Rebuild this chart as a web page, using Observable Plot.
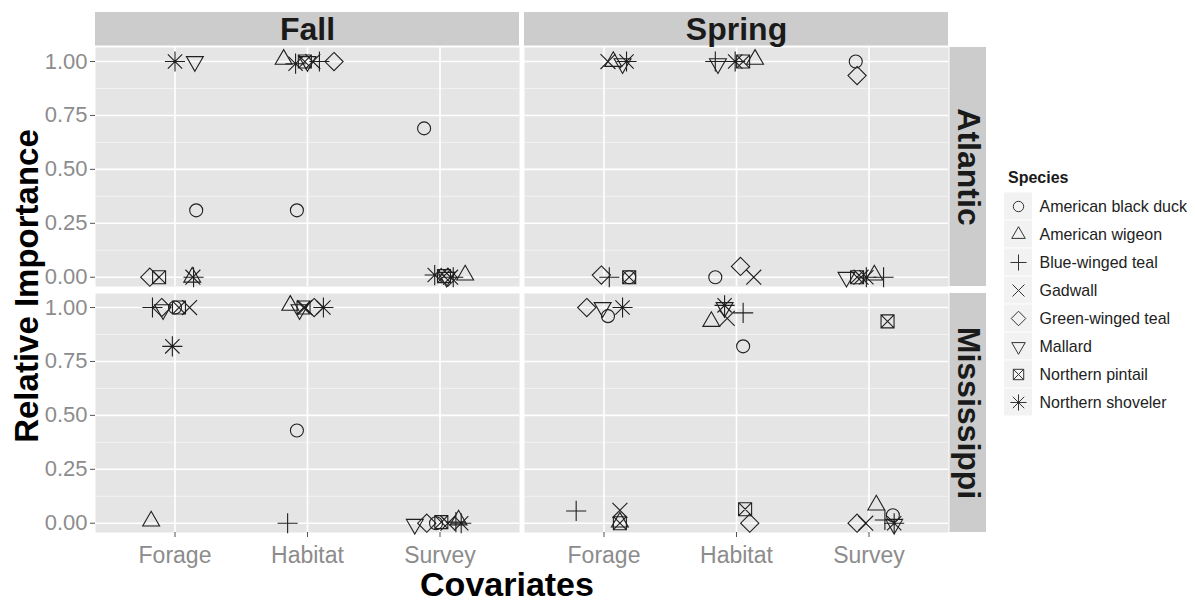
<!DOCTYPE html>
<html>
<head>
<meta charset="utf-8">
<script src="https://cdn.jsdelivr.net/npm/d3@7"></script>
<script src="https://cdn.jsdelivr.net/npm/@observablehq/plot@0.6"></script>
<style>
  html, body { margin: 0; padding: 0; background: #ffffff; }
  body { font-family: "Liberation Sans", Arial, sans-serif; }
  #wrap { position: relative; width: 1195px; height: 605px; overflow: hidden; background: #fff; }
  #main { position: absolute; left: 0; top: 0; }
  #legend { position: absolute; left: 1004px; top: 191px; }
  #legendTitle { position: absolute; left: 1008px; top: 168px; font-size: 16px; font-weight: bold; color: #1a1a1a; line-height: 20px; }
  #ylab { position: absolute; left: 27px; top: 286px; transform: translate(-50%, -50%) rotate(-90deg); font-size: 33px; font-weight: bold; color: #000; white-space: nowrap; line-height: 36px; }
  #xlab { position: absolute; left: 507px; top: 584px; transform: translate(-50%, -50%); font-size: 34px; font-weight: bold; color: #000; white-space: nowrap; line-height: 38px; }
</style>
</head>
<body>
<div id="wrap">
  <div id="main"></div>
  <div id="legendTitle">Species</div>
  <div id="legend"></div>
  <div id="ylab">Relative Importance</div>
  <div id="xlab">Covariates</div>
</div>
<script>
// ---------- data ----------
const species = ["American black duck", "American wigeon", "Blue-winged teal", "Gadwall",
                 "Green-winged teal", "Mallard", "Northern pintail", "Northern shoveler"];
const covariates = ["Forage", "Habitat", "Survey"];
const seasons = ["Fall", "Spring"];
const flyways = ["Atlantic", "Mississippi"];
const yTicks = [0, 0.25, 0.5, 0.75, 1];
const yMinorTicks = [0.125, 0.375, 0.625, 0.875];

// rows: Forage, Habitat, Survey ; columns: species in the order above
const fallAtlanticValues = [
  [0.31, 0.00, 0.00, 0.00, 0.00, 1.00, 0.00, 1.00],
  [0.31, 1.01, 1.00, 1.00, 1.00, 1.00, 1.00, 0.99],
  [0.69, 0.01, 0.00, 0.00, 0.00, 0.00, 0.005, 0.01]
];
const fallAtlanticJitter = [
  [0.16, 0.13, 0.14, 0.135, -0.19, 0.15, -0.12, 0.00],
  [-0.08, -0.18, 0.09, 0.04, 0.20, 0.00, -0.02, -0.09],
  [-0.12, 0.19, 0.10, 0.08, 0.06, 0.05, 0.03, -0.04]
];
const springAtlanticValues = [
  [0.00, 1.00, 0.00, 1.00, 0.01, 0.99, 0.00, 1.00],
  [0.00, 1.01, 1.00, 0.00, 0.05, 0.99, 1.00, 1.00],
  [1.00, 0.01, 0.00, 0.00, 0.935, 0.00, 0.00, 0.00]
];
const springAtlanticJitter = [
  [0.19, 0.07, 0.04, 0.03, -0.02, 0.14, 0.19, 0.17],
  [-0.16, 0.14, -0.16, 0.13, 0.03, -0.14, 0.05, -0.01],
  [-0.10, 0.04, 0.11, -0.06, -0.09, -0.17, -0.09, -0.02]
];
const fallMississippiValues = [
  [1.00, 0.01, 1.00, 1.00, 1.00, 0.99, 1.00, 0.82],
  [0.43, 1.01, 0.00, 1.00, 1.00, 0.99, 1.00, 1.00],
  [0.00, 0.015, 0.005, 0.00, 0.00, -0.005, 0.005, 0.00]
];
const fallMississippiJitter = [
  [0.00, -0.18, -0.17, 0.11, -0.10, -0.09, 0.03, -0.02],
  [-0.08, -0.13, -0.15, -0.02, 0.05, -0.06, -0.03, 0.12],
  [-0.03, 0.14, 0.12, 0.06, -0.10, -0.19, 0.01, 0.16]
];
const springMississippiValues = [
  [0.96, 0.005, 0.057, 0.06, 1.00, 1.00, 0.00, 1.00],
  [0.82, 0.935, 0.975, 0.95, 0.00, 1.00, 0.065, 1.01],
  [0.037, 0.084, 0.015, 0.00, 0.00, -0.005, 0.936, 0.00]
];
const springMississippiJitter = [
  [0.03, 0.12, -0.21, 0.12, -0.13, -0.01, 0.12, 0.14],
  [0.05, -0.19, 0.05, -0.07, 0.10, -0.09, 0.065, -0.09],
  [0.18, 0.055, 0.12, -0.025, -0.09, 0.19, 0.14, 0.19]
];

const panels = [
  {season: "Fall", flyway: "Atlantic", values: fallAtlanticValues, jitter: fallAtlanticJitter},
  {season: "Spring", flyway: "Atlantic", values: springAtlanticValues, jitter: springAtlanticJitter},
  {season: "Fall", flyway: "Mississippi", values: fallMississippiValues, jitter: fallMississippiJitter},
  {season: "Spring", flyway: "Mississippi", values: springMississippiValues, jitter: springMississippiJitter}
];
const points = panels.flatMap(p => covariates.flatMap((c, ci) => species.map((s, si) => ({
  season: p.season, flyway: p.flyway, covariate: c, species: s,
  value: p.values[ci][si], pos: ci + p.jitter[ci][si]
}))));

// ---------- ggplot-like shapes ----------
const K = size => Math.sqrt(size / Math.PI);
const sym = draw => ({draw});
const shapes = [
  sym((c, s) => { const k = K(s); c.moveTo(k, 0); c.arc(0, 0, k, 0, 2 * Math.PI); }),
  sym((c, s) => { const w = 1.3 * K(s), h = Math.sqrt(3) * w; c.moveTo(0, -2 * h / 3); c.lineTo(w, h / 3); c.lineTo(-w, h / 3); c.closePath(); }),
  sym((c, s) => { const k = 1.55 * K(s); c.moveTo(-k, 0); c.lineTo(k, 0); c.moveTo(0, -k); c.lineTo(0, k); }),
  sym((c, s) => { const k = 1.15 * K(s); c.moveTo(-k, -k); c.lineTo(k, k); c.moveTo(-k, k); c.lineTo(k, -k); }),
  sym((c, s) => { const k = 1.4 * K(s); c.moveTo(0, -k); c.lineTo(k, 0); c.lineTo(0, k); c.lineTo(-k, 0); c.closePath(); }),
  sym((c, s) => { const w = 1.3 * K(s), h = Math.sqrt(3) * w; c.moveTo(0, 2 * h / 3); c.lineTo(w, -h / 3); c.lineTo(-w, -h / 3); c.closePath(); }),
  sym((c, s) => { const k = K(s); c.rect(-k, -k, 2 * k, 2 * k); c.moveTo(-k, -k); c.lineTo(k, k); c.moveTo(-k, k); c.lineTo(k, -k); }),
  sym((c, s) => { const k = 1.55 * K(s), t = 1.1 * K(s);
    c.moveTo(-k, 0); c.lineTo(k, 0); c.moveTo(0, -k); c.lineTo(0, k);
    c.moveTo(-t, -t); c.lineTo(t, t); c.moveTo(-t, t); c.lineTo(t, -t); })
];

const FONT = '"Liberation Sans", Arial, sans-serif';
const topStrips = seasons.map(s => ({season: s, flyway: flyways[0]}));
const rightStrips = flyways.map(f => ({season: seasons[seasons.length - 1], flyway: f}));

const W = 995, H = 605, mL = 95, mR = 46, mT = 47, mB = 72;
const padX = 0.0116, padY = 0.0284;
const bwX = (W - mL - mR) / (seasons.length - padX) * (1 - padX);
const bwY = (H - mT - mB) / (flyways.length - padY) * (1 - padY);

const main = Plot.plot({
  width: W, height: H,
  marginLeft: mL, marginRight: mR, marginTop: mT, marginBottom: mB,
  style: {fontFamily: FONT, background: "transparent", overflow: "visible"},
  fx: {domain: seasons, paddingInner: padX, paddingOuter: 0, axis: null},
  fy: {domain: flyways, paddingInner: padY, paddingOuter: 0, axis: null},
  x: {domain: [-0.6, covariates.length - 0.4]},
  y: {domain: [-0.043, 1.065]},
  symbol: {domain: species, range: shapes},
  marks: [
    Plot.frame({fill: "#e5e5e5", stroke: "none"}),
    Plot.gridY(yMinorTicks, {stroke: "#f2f2f2", strokeOpacity: 1, strokeWidth: 1}),
    Plot.gridY(yTicks, {stroke: "#ffffff", strokeOpacity: 1, strokeWidth: 1.6}),
    Plot.gridX(covariates.map((_, i) => i), {stroke: "#ffffff", strokeOpacity: 1, strokeWidth: 1.6}),
    Plot.rect(topStrips, {fx: "season", fy: "flyway", fill: "#cccccc", insetTop: -35, insetBottom: bwY + 1}),
    Plot.rect(rightStrips, {fx: "season", fy: "flyway", fill: "#cccccc", insetLeft: bwX + 1, insetRight: -38}),
    Plot.text(topStrips, {fx: "season", fy: "flyway", text: "season", frameAnchor: "top", dy: -18,
      lineAnchor: "middle", textAnchor: "middle", fontSize: 32, fontWeight: "bold", fill: "#1a1a1a"}),
    Plot.text(rightStrips, {fx: "season", fy: "flyway", text: "flyway", frameAnchor: "right", dx: 19.5, rotate: 90,
      lineAnchor: "middle", textAnchor: "middle", fontSize: 32, fontWeight: "bold", fill: "#1a1a1a"}),
    Plot.axisY({ticks: yTicks, tickFormat: d3.format(".2f"), tickSize: 5, tickPadding: 3,
      fontSize: 22, fill: "#8c8c8c", stroke: "#555555", label: null}),
    Plot.axisX({ticks: covariates.map((_, i) => i), tickFormat: i => covariates[i], tickSize: 5, tickPadding: 9,
      fontSize: 23, fill: "#8c8c8c", stroke: "#555555", label: null}),
    Plot.dot(points, {fx: "season", fy: "flyway", x: "pos", y: "value", symbol: "species",
      r: 6.5, fill: "none", stroke: "#1f1f1f", strokeWidth: 1.1})
  ]
});
document.getElementById("main").appendChild(main);

const rowH = 28.3;
const legend = Plot.plot({
  width: 190, height: species.length * rowH,
  margin: 0,
  style: {fontFamily: FONT, background: "transparent", overflow: "visible"},
  y: {domain: species, type: "band", padding: 0, axis: null},
  symbol: {domain: species, range: shapes},
  marks: [
    Plot.cell(species, {y: d => d, fill: "#f2f2f2", insetRight: 190 - 28, insetTop: 0.5, insetBottom: 0.5}),
    Plot.dot(species, {y: d => d, symbol: d => d, frameAnchor: "left", dx: 14, r: 5.2,
      fill: "none", stroke: "#333333", strokeWidth: 1}),
    Plot.text(species, {y: d => d, text: d => d, frameAnchor: "left", dx: 35, textAnchor: "start",
      fontSize: 16, fill: "#222222"})
  ]
});
document.getElementById("legend").appendChild(legend);
</script>
</body>
</html>
